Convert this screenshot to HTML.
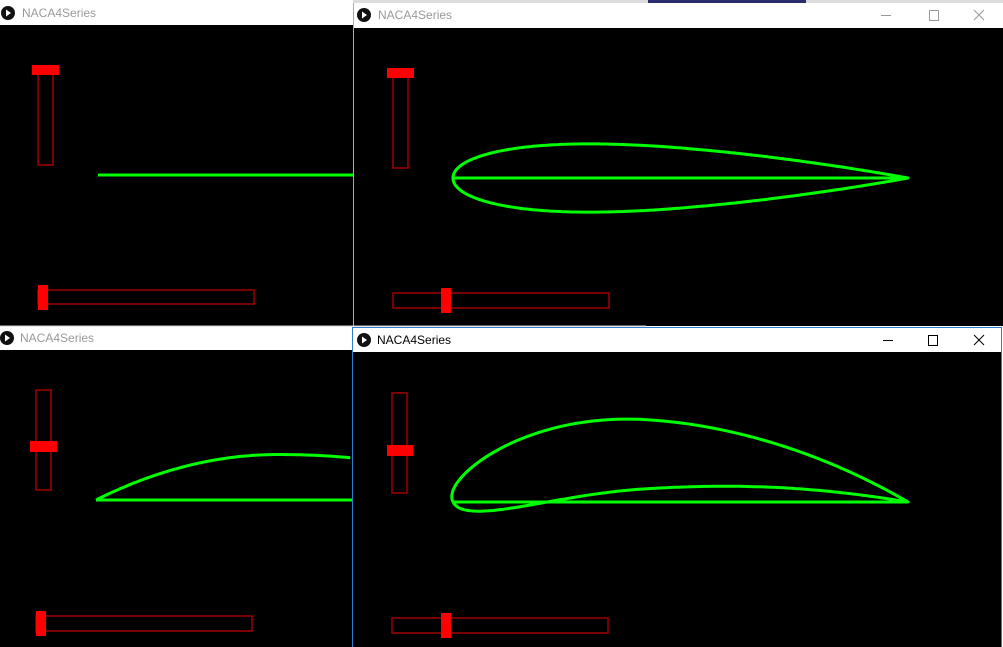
<!DOCTYPE html>
<html><head><meta charset="utf-8"><style>
html,body{margin:0;padding:0;background:#fff;width:1003px;height:647px;overflow:hidden}
svg{display:block}
text{font-family:"Liberation Sans",sans-serif;font-size:12px}
</style></head><body>
<svg id="s" width="1003" height="647">
 <g>
  <rect x="0" y="0" width="353" height="25" fill="#fff"/>
  <circle cx="8" cy="13" r="7" fill="#111"/><path d="M6 9.5 L11 13 L6 16.5Z" fill="#fff"/>
  <text x="22" y="17" fill="#999">NACA4Series</text>
  <rect x="0" y="25" width="353" height="301" fill="#000"/>
  <rect x="38" y="70" width="15" height="95" fill="none" stroke="#a00000" stroke-width="1.5"/>
  <rect x="32" y="65" width="27" height="10" fill="#f00"/>
  <rect x="38" y="290" width="216" height="14" fill="none" stroke="#a00000" stroke-width="1.5"/>
  <rect x="38" y="285" width="10" height="25" fill="#f00"/>
  <line x1="98" y1="175" x2="353" y2="175" stroke="#0f0" stroke-width="3"/>
 </g>
 <g>
  <rect x="353" y="0" width="650" height="3" fill="#ddd"/>
  <rect x="648" y="0" width="158" height="3" fill="#2b2b6e"/>
  <rect x="353" y="3" width="650" height="25" fill="#fff"/>
  <rect x="353" y="3" width="1" height="323" fill="#aaa"/>
  <circle cx="364" cy="15" r="7" fill="#111"/><path d="M362 11.5 L367 15 L362 18.5Z" fill="#fff"/>
  <text x="378" y="19" fill="#999">NACA4Series</text>
  <line x1="881" y1="15.5" x2="891" y2="15.5" stroke="#999"/>
  <rect x="929.5" y="10.5" width="9" height="10" fill="none" stroke="#999"/>
  <path d="M974 10 L984 20 M984 10 L974 20" stroke="#999"/>
  <rect x="354" y="28" width="649" height="298" fill="#000"/>
  <rect x="393" y="73" width="15" height="95" fill="none" stroke="#a00000" stroke-width="1.5"/>
  <rect x="387" y="68" width="27" height="10" fill="#f00"/>
  <rect x="393" y="293" width="216" height="15" fill="none" stroke="#a00000" stroke-width="1.5"/>
  <rect x="441" y="288" width="10" height="25" fill="#f00"/>
  <g id="foilTR"></g>
 </g>
 <g>
  <rect x="0" y="326" width="353" height="24" fill="#fff"/>
  <line x1="0" y1="326" x2="646" y2="326" stroke="#ccc"/>
  <circle cx="7" cy="338" r="7" fill="#111"/><path d="M5 334.5 L10 338 L5 341.5Z" fill="#fff"/>
  <text x="20" y="342" fill="#999">NACA4Series</text>
  <rect x="0" y="350" width="353" height="297" fill="#000"/>
  <rect x="36" y="390" width="15" height="100" fill="none" stroke="#a00000" stroke-width="1.5"/>
  <rect x="30" y="441" width="27" height="11" fill="#f00"/>
  <rect x="36" y="616" width="216" height="15" fill="none" stroke="#a00000" stroke-width="1.5"/>
  <rect x="36" y="611" width="10" height="25" fill="#f00"/>
  <g id="foilBL"></g>
 </g>
 <g>
  <rect x="352" y="327" width="651" height="320" fill="#fff"/>
  <rect x="352.5" y="327.5" width="649" height="320" fill="#fff" stroke="#2d7fd0"/>
  <circle cx="364" cy="340" r="7" fill="#111"/><path d="M362 336.5 L367 340 L362 343.5Z" fill="#fff"/>
  <text x="377" y="344" fill="#000">NACA4Series</text>
  <line x1="883" y1="340.5" x2="893" y2="340.5" stroke="#000"/>
  <rect x="928.5" y="335.5" width="9" height="10" fill="none" stroke="#000"/>
  <path d="M974 335 L984 345 M984 335 L974 345" stroke="#000"/>
  <rect x="353" y="352" width="648" height="295" fill="#000"/>
  <rect x="392" y="393" width="15" height="100" fill="none" stroke="#a00000" stroke-width="1.5"/>
  <rect x="387" y="445" width="26" height="11" fill="#f00"/>
  <rect x="392" y="618" width="216" height="15" fill="none" stroke="#a00000" stroke-width="1.5"/>
  <rect x="441" y="613" width="10" height="25" fill="#f00"/>
  <g id="foilBR"></g>
 </g>
</svg>
<script>
// NACA 4-series parameters per panel: [max camber m, camber position p, thickness t]
const panelNames = ["foilTR", "foilBL", "foilBR"];
const camberM = [0, 0.10, 0.105];
const camberP = [0.4, 0.4, 0.42];
const thicknessT = [0.15, 0, 0.16];
const leadX = [453, 96, 453];
const chordY = [178, 500, 502];
const chordLen = 455;
const clipRight = [1003, 352, 1001];
const NS = "http://www.w3.org/2000/svg";
function camber(x, m, p) {
  if (m === 0) return [0, 0];
  if (x < p) return [m / (p * p) * (2 * p * x - x * x), 2 * m / (p * p) * (p - x)];
  return [m / ((1 - p) * (1 - p)) * (1 - 2 * p + 2 * p * x - x * x), 2 * m / ((1 - p) * (1 - p)) * (p - x)];
}
function thick(x, t) {
  return 5 * t * (0.2969 * Math.sqrt(x) - 0.126 * x - 0.3516 * x * x + 0.2843 * x * x * x - 0.1036 * x * x * x * x);
}
panelNames.forEach((id, i) => {
  const g = document.getElementById(id);
  const sx = x => leadX[i] + x * chordLen, sy = y => chordY[i] - y * chordLen;
  const N = 160, up = [], lo = [];
  for (let k = 0; k <= N; k++) {
    const b = Math.PI * k / N, x = (1 - Math.cos(b)) / 2;
    const [yc, dy] = camber(x, camberM[i], camberP[i]);
    const th = Math.atan(dy), yt = thick(x, thicknessT[i]);
    up.push([sx(x - yt * Math.sin(th)), sy(yc + yt * Math.cos(th))]);
    lo.push([sx(x + yt * Math.sin(th)), sy(yc - yt * Math.cos(th))]);
  }
  const cl = v => Math.min(v, clipRight[i]);
  const line = document.createElementNS(NS, "line");
  line.setAttribute("x1", leadX[i]); line.setAttribute("y1", chordY[i]);
  line.setAttribute("x2", cl(leadX[i] + chordLen)); line.setAttribute("y2", chordY[i]);
  line.setAttribute("stroke", "#0f0"); line.setAttribute("stroke-width", "3");
  
  
  g.appendChild(line);
  const pts = thicknessT[i] > 0 ? up.concat(lo.slice().reverse()) : up;
  const path = document.createElementNS(NS, "polyline");
  path.setAttribute("points", pts.filter(p => p[0] <= clipRight[i] + 1).map(p => p[0].toFixed(1) + "," + p[1].toFixed(1)).join(" "));
  path.setAttribute("fill", "none"); path.setAttribute("stroke", "#0f0");
  path.setAttribute("stroke-width", "3"); path.setAttribute("stroke-linejoin", "round");
  
  
  g.appendChild(path);
});
</script>
</body></html>
